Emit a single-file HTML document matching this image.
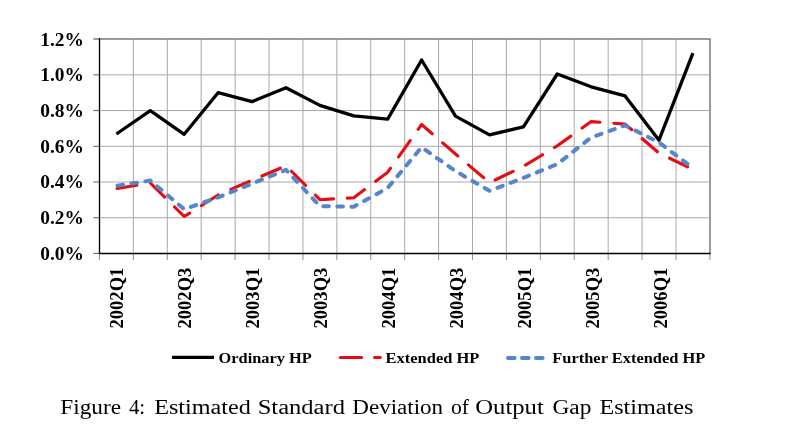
<!DOCTYPE html>
<html><head><meta charset="utf-8"><style>
html,body{margin:0;padding:0;background:#fff;}
svg{display:block;}
.yl{font-family:"Liberation Serif",serif;font-weight:bold;font-size:19.4px;fill:#000;}
.xl{font-family:"Liberation Serif",serif;font-weight:bold;font-size:18.6px;fill:#000;}
.lg{font-family:"Liberation Serif",serif;font-weight:bold;font-size:15.6px;fill:#000;}
.cap{font-family:"Liberation Serif",serif;font-size:21.9px;fill:#000;}
</style></head><body>
<svg width="798" height="440" viewBox="0 0 798 440">
<rect width="798" height="440" fill="#fff"/>
<line x1="100" y1="217.73" x2="709" y2="217.73" stroke="#a8a8a8" stroke-width="1"/>
<line x1="93.4" y1="217.73" x2="99" y2="217.73" stroke="#5e5e5e" stroke-width="1"/>
<line x1="100" y1="182.01" x2="709" y2="182.01" stroke="#a8a8a8" stroke-width="1"/>
<line x1="93.4" y1="182.01" x2="99" y2="182.01" stroke="#5e5e5e" stroke-width="1"/>
<line x1="100" y1="146.29" x2="709" y2="146.29" stroke="#a8a8a8" stroke-width="1"/>
<line x1="93.4" y1="146.29" x2="99" y2="146.29" stroke="#5e5e5e" stroke-width="1"/>
<line x1="100" y1="110.57" x2="709" y2="110.57" stroke="#a8a8a8" stroke-width="1"/>
<line x1="93.4" y1="110.57" x2="99" y2="110.57" stroke="#5e5e5e" stroke-width="1"/>
<line x1="100" y1="74.85" x2="709" y2="74.85" stroke="#a8a8a8" stroke-width="1"/>
<line x1="93.4" y1="74.85" x2="99" y2="74.85" stroke="#5e5e5e" stroke-width="1"/>
<line x1="133.35" y1="39.5" x2="133.35" y2="253" stroke="#a8a8a8" stroke-width="1"/>
<line x1="167.27" y1="39.5" x2="167.27" y2="253" stroke="#a8a8a8" stroke-width="1"/>
<line x1="201.18" y1="39.5" x2="201.18" y2="253" stroke="#a8a8a8" stroke-width="1"/>
<line x1="235.1" y1="39.5" x2="235.1" y2="253" stroke="#a8a8a8" stroke-width="1"/>
<line x1="269.01" y1="39.5" x2="269.01" y2="253" stroke="#a8a8a8" stroke-width="1"/>
<line x1="302.93" y1="39.5" x2="302.93" y2="253" stroke="#a8a8a8" stroke-width="1"/>
<line x1="336.84" y1="39.5" x2="336.84" y2="253" stroke="#a8a8a8" stroke-width="1"/>
<line x1="370.76" y1="39.5" x2="370.76" y2="253" stroke="#a8a8a8" stroke-width="1"/>
<line x1="404.67" y1="39.5" x2="404.67" y2="253" stroke="#a8a8a8" stroke-width="1"/>
<line x1="438.58" y1="39.5" x2="438.58" y2="253" stroke="#a8a8a8" stroke-width="1"/>
<line x1="472.5" y1="39.5" x2="472.5" y2="253" stroke="#a8a8a8" stroke-width="1"/>
<line x1="506.41" y1="39.5" x2="506.41" y2="253" stroke="#a8a8a8" stroke-width="1"/>
<line x1="540.33" y1="39.5" x2="540.33" y2="253" stroke="#a8a8a8" stroke-width="1"/>
<line x1="574.24" y1="39.5" x2="574.24" y2="253" stroke="#a8a8a8" stroke-width="1"/>
<line x1="608.16" y1="39.5" x2="608.16" y2="253" stroke="#a8a8a8" stroke-width="1"/>
<line x1="642.07" y1="39.5" x2="642.07" y2="253" stroke="#a8a8a8" stroke-width="1"/>
<line x1="675.99" y1="39.5" x2="675.99" y2="253" stroke="#a8a8a8" stroke-width="1"/>
<line x1="99.44" y1="254" x2="99.44" y2="260" stroke="#8c8c8c" stroke-width="1"/>
<line x1="133.35" y1="254" x2="133.35" y2="260" stroke="#8c8c8c" stroke-width="1"/>
<line x1="167.27" y1="254" x2="167.27" y2="260" stroke="#8c8c8c" stroke-width="1"/>
<line x1="201.18" y1="254" x2="201.18" y2="260" stroke="#8c8c8c" stroke-width="1"/>
<line x1="235.1" y1="254" x2="235.1" y2="260" stroke="#8c8c8c" stroke-width="1"/>
<line x1="269.01" y1="254" x2="269.01" y2="260" stroke="#8c8c8c" stroke-width="1"/>
<line x1="302.93" y1="254" x2="302.93" y2="260" stroke="#8c8c8c" stroke-width="1"/>
<line x1="336.84" y1="254" x2="336.84" y2="260" stroke="#8c8c8c" stroke-width="1"/>
<line x1="370.76" y1="254" x2="370.76" y2="260" stroke="#8c8c8c" stroke-width="1"/>
<line x1="404.67" y1="254" x2="404.67" y2="260" stroke="#8c8c8c" stroke-width="1"/>
<line x1="438.58" y1="254" x2="438.58" y2="260" stroke="#8c8c8c" stroke-width="1"/>
<line x1="472.5" y1="254" x2="472.5" y2="260" stroke="#8c8c8c" stroke-width="1"/>
<line x1="506.41" y1="254" x2="506.41" y2="260" stroke="#8c8c8c" stroke-width="1"/>
<line x1="540.33" y1="254" x2="540.33" y2="260" stroke="#8c8c8c" stroke-width="1"/>
<line x1="574.24" y1="254" x2="574.24" y2="260" stroke="#8c8c8c" stroke-width="1"/>
<line x1="608.16" y1="254" x2="608.16" y2="260" stroke="#8c8c8c" stroke-width="1"/>
<line x1="642.07" y1="254" x2="642.07" y2="260" stroke="#8c8c8c" stroke-width="1"/>
<line x1="675.99" y1="254" x2="675.99" y2="260" stroke="#8c8c8c" stroke-width="1"/>
<line x1="709.9" y1="254" x2="709.9" y2="260" stroke="#8c8c8c" stroke-width="1"/>
<line x1="99" y1="39.0" x2="710.7" y2="39.0" stroke="#7a7a7a" stroke-width="1.5"/>
<line x1="93.4" y1="39.0" x2="99" y2="39.0" stroke="#5e5e5e" stroke-width="1.2"/>
<line x1="710" y1="39" x2="710" y2="253" stroke="#7a7a7a" stroke-width="1.5"/>
<line x1="93.4" y1="253.4" x2="99" y2="253.4" stroke="#5e5e5e" stroke-width="1"/>
<line x1="99.5" y1="38.3" x2="99.5" y2="254" stroke="#000" stroke-width="1.35"/>
<line x1="98.8" y1="253.5" x2="710.7" y2="253.5" stroke="#000" stroke-width="1.35"/>
<text x="83.9" y="259.8" text-anchor="end" class="yl">0.0%</text>
<text x="83.9" y="224.1" text-anchor="end" class="yl">0.2%</text>
<text x="83.9" y="188.4" text-anchor="end" class="yl">0.4%</text>
<text x="83.9" y="152.7" text-anchor="end" class="yl">0.6%</text>
<text x="83.9" y="117.0" text-anchor="end" class="yl">0.8%</text>
<text x="83.9" y="81.2" text-anchor="end" class="yl">1.0%</text>
<text x="83.9" y="45.5" text-anchor="end" class="yl">1.2%</text>
<text transform="translate(122.6,267.6) rotate(-90)" text-anchor="end" class="xl">2002Q1</text>
<text transform="translate(190.6,267.6) rotate(-90)" text-anchor="end" class="xl">2002Q3</text>
<text transform="translate(258.6,267.6) rotate(-90)" text-anchor="end" class="xl">2003Q1</text>
<text transform="translate(326.6,267.6) rotate(-90)" text-anchor="end" class="xl">2003Q3</text>
<text transform="translate(394.6,267.6) rotate(-90)" text-anchor="end" class="xl">2004Q1</text>
<text transform="translate(462.6,267.6) rotate(-90)" text-anchor="end" class="xl">2004Q3</text>
<text transform="translate(530.7,267.6) rotate(-90)" text-anchor="end" class="xl">2005Q1</text>
<text transform="translate(598.7,267.6) rotate(-90)" text-anchor="end" class="xl">2005Q3</text>
<text transform="translate(666.7,267.6) rotate(-90)" text-anchor="end" class="xl">2006Q1</text>
<polyline points="116.4,188.6 150.3,182.9 184.2,216.5 218.1,195.0 252.1,180.2 286.0,165.8 319.9,199.7 353.8,197.7 387.7,172.2 421.6,124.5 455.5,154.0 489.5,182.7 523.4,166.3 557.3,145.8 591.2,121.6 625.1,124.1 659.0,153.1 692.9,169.5" fill="none" stroke="#e80c10" stroke-width="3.1" stroke-dasharray="20 13.85" stroke-dashoffset="33.1" stroke-linecap="round" stroke-linejoin="round"/>
<polyline points="116.4,185.8 150.3,180.6 184.2,209.2 218.1,197.4 252.1,183.6 286.0,169.9 319.9,206.1 353.8,206.7 387.7,187.9 421.6,147.2 455.5,171.1 489.5,190.8 523.4,177.9 557.3,164.1 591.2,137.4 625.1,125.4 659.0,142.4 692.9,168.1" fill="none" stroke="#5585cc" stroke-width="4" stroke-dasharray="5.6 8.5" stroke-dashoffset="13" stroke-linecap="round" stroke-linejoin="round"/>
<polyline points="116.4,134.0 150.3,110.6 184.2,134.3 218.1,92.7 252.1,101.6 286.0,87.7 319.9,105.4 353.8,115.9 387.7,119.1 421.6,60.0 455.5,116.1 489.5,134.9 523.4,126.8 557.3,74.0 591.2,86.8 625.1,95.9 659.0,140.2 692.9,53.2" fill="none" stroke="#000" stroke-width="3.3" stroke-linejoin="round"/>
<line x1="172" y1="357.3" x2="214" y2="357.3" stroke="#000" stroke-width="3.2"/>
<text x="218.6" y="362.7" class="lg" textLength="93.2" lengthAdjust="spacingAndGlyphs">Ordinary HP</text>
<line x1="340.4" y1="357.5" x2="361.6" y2="357.5" stroke="#e80c10" stroke-width="3.2" stroke-linecap="round"/>
<line x1="374.6" y1="357.5" x2="380.2" y2="357.5" stroke="#e80c10" stroke-width="3.2" stroke-linecap="round"/>
<text x="385.6" y="362.7" class="lg" textLength="93.8" lengthAdjust="spacingAndGlyphs">Extended HP</text>
<line x1="508" y1="357.9" x2="514.6" y2="357.9" stroke="#5585cc" stroke-width="4" stroke-linecap="round"/>
<line x1="522" y1="357.9" x2="528.6" y2="357.9" stroke="#5585cc" stroke-width="4" stroke-linecap="round"/>
<line x1="536" y1="357.9" x2="542.6" y2="357.9" stroke="#5585cc" stroke-width="4" stroke-linecap="round"/>
<text x="552.3" y="362.7" class="lg" textLength="153" lengthAdjust="spacingAndGlyphs">Further Extended HP</text>
<text y="413.6" class="cap"><tspan x="60.24" textLength="60.83" lengthAdjust="spacingAndGlyphs">Figure</tspan> <tspan x="128.9" textLength="16.24" lengthAdjust="spacingAndGlyphs">4:</tspan> <tspan x="154.2" textLength="96.71" lengthAdjust="spacingAndGlyphs">Estimated</tspan> <tspan x="257.68" textLength="87.25" lengthAdjust="spacingAndGlyphs">Standard</tspan> <tspan x="352.25" textLength="90.9" lengthAdjust="spacingAndGlyphs">Deviation</tspan> <tspan x="451.01" textLength="18.04" lengthAdjust="spacingAndGlyphs">of</tspan> <tspan x="475.27" textLength="68.52" lengthAdjust="spacingAndGlyphs">Output</tspan> <tspan x="552.43" textLength="38.99" lengthAdjust="spacingAndGlyphs">Gap</tspan> <tspan x="599.4" textLength="93.95" lengthAdjust="spacingAndGlyphs">Estimates</tspan></text>
</svg>
</body></html>
